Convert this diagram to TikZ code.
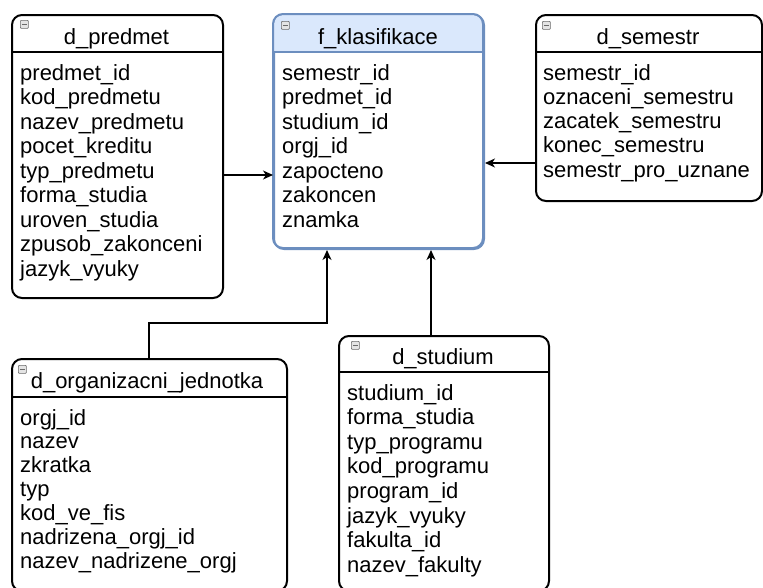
\documentclass[tikz,border=0pt]{standalone}
\usepackage{fontspec}
\setmainfont{Liberation Sans}
\usetikzlibrary{arrows.meta}

\definecolor{hdrblue}{HTML}{DAE8FC}
\definecolor{edgeblue}{HTML}{6C8EBF}
\definecolor{iconfill}{HTML}{E4E4E4}
\definecolor{icongray}{HTML}{6A6A6A}

\tikzset{
  tbl/.style={draw=black, line width=2pt, rounded corners=10pt, fill=white,
    inner sep=0pt, anchor=north west},
  facttbl/.style={tbl, draw=edgeblue},
  hdrline/.style={line width=2pt},
  field/.style={anchor=base west, inner sep=0pt, font=\fontsize{22}{24}\selectfont},
  tabletitle/.style={anchor=base, inner sep=0pt, font=\fontsize{22}{24}\selectfont},
  link/.style={line width=1.2pt, -{Stealth[length=10pt,width=9pt,inset=3pt]}},
  icon/.style={draw=icongray, fill=iconfill, line width=0.7pt, minimum size=8pt,
    inner sep=0pt, anchor=north west, rounded corners=0.8pt,
    path picture={\draw[icongray, line width=1pt]
      ([xshift=1.6pt]path picture bounding box.west) --
      ([xshift=-1.6pt]path picture bounding box.east);}},
}

% #1 name, #2 left, #3 top, #4 width, #5 height, #6 style
\newcommand{\erframe}[6]{%
  \node[#6, minimum width=#4pt, minimum height=#5pt] (#1) at (#2,#3) {};
}

\begin{document}
\begin{tikzpicture}[x=1pt, y=-1pt]
  \useasboundingbox (0,0) rectangle (763,587);
  \clip (0,0) rectangle (763,587);

  % ---------- d_predmet ----------
  \erframe{pred}{11}{14}{211}{283}{tbl}
  \draw[hdrline] (11,52) -- (222,52);
  \node[icon] (pred-icon) at (20,20) {};
  \node[tabletitle] (pred-title) at (116.5,44) {d\_predmet};
  \foreach \t [count=\i] in {predmet\_id, kod\_predmetu, nazev\_predmetu,
      pocet\_kreditu, typ\_predmetu, forma\_studia, uroven\_studia,
      zpusob\_zakonceni, jazyk\_vyuky}
    \node[field] (pred-\i) at (20, 80+24.5*\i-24.5) {\t};

  % ---------- f_klasifikace ----------
  \erframe{fact}{273}{14}{210}{234}{facttbl}
  \fill[hdrblue, rounded corners=9pt] (274,15) rectangle (482,51);
  \fill[hdrblue] (274,35) rectangle (482,51);
  \draw[hdrline, edgeblue] (273,52) -- (483,52);
  \draw[edgeblue, line width=2pt, rounded corners=10pt] (273,14) rectangle (483,248);
  \node[icon] (fact-icon) at (281,21) {};
  \node[tabletitle] (fact-title) at (378,44) {f\_klasifikace};
  \foreach \t [count=\i] in {semestr\_id, predmet\_id, studium\_id, orgj\_id,
      zapocteno, zakoncen, znamka}
    \node[field] (fact-\i) at (282, 80+24.5*\i-24.5) {\t};

  % ---------- d_semestr ----------
  \erframe{sem}{535}{14}{226}{186}{tbl}
  \draw[hdrline] (535,52) -- (761,52);
  \node[icon] (sem-icon) at (542,21) {};
  \node[tabletitle] (sem-title) at (648,44) {d\_semestr};
  \foreach \t [count=\i] in {semestr\_id, oznaceni\_semestru, zacatek\_semestru,
      konec\_semestru, semestr\_pro\_uznane}
    \node[field] (sem-\i) at (543, 80+24.3*\i-24.3) {\t};

  % ---------- d_organizacni_jednotka ----------
  \erframe{org}{11}{358}{275}{232}{tbl}
  \draw[hdrline] (11,397) -- (286,397);
  \node[icon] (org-icon) at (18,365) {};
  \node[tabletitle] (org-title) at (147,388) {d\_organizacni\_jednotka};
  \foreach \t [count=\i] in {orgj\_id, nazev, zkratka, typ, kod\_ve\_fis,
      nadrizena\_orgj\_id, nazev\_nadrizene\_orgj}
    \node[field] (org-\i) at (20, 425+23.9*\i-23.9) {\t};

  % ---------- d_studium ----------
  \erframe{stud}{338}{335}{210}{255}{tbl}
  \draw[hdrline] (338,372) -- (548,372);
  \node[icon] (stud-icon) at (351,341) {};
  \node[tabletitle] (stud-title) at (443,364) {d\_studium};
  \foreach \t [count=\i] in {studium\_id, forma\_studia, typ\_programu,
      kod\_programu, program\_id, jazyk\_vyuky, fakulta\_id, nazev\_fakulty}
    \node[field] (stud-\i) at (347, 400+24.6*\i-24.6) {\t};

  % ---------- references into the fact table ----------
  \coordinate (bendA) at (149,323);
  \coordinate (bendB) at (327,323);
  \draw[link] (pred.east |- 0,175) -- (fact.west |- 0,175);
  \draw[link] (sem.west |- 0,163) -- (fact.east |- 0,163);
  \draw[link] (org.north -| bendA) -- (bendA) -- (bendB) -- (fact.south -| bendB);
  \draw[link] (stud.north -| 431,0) -- (fact.south -| 431,0);
\end{tikzpicture}
\end{document}
